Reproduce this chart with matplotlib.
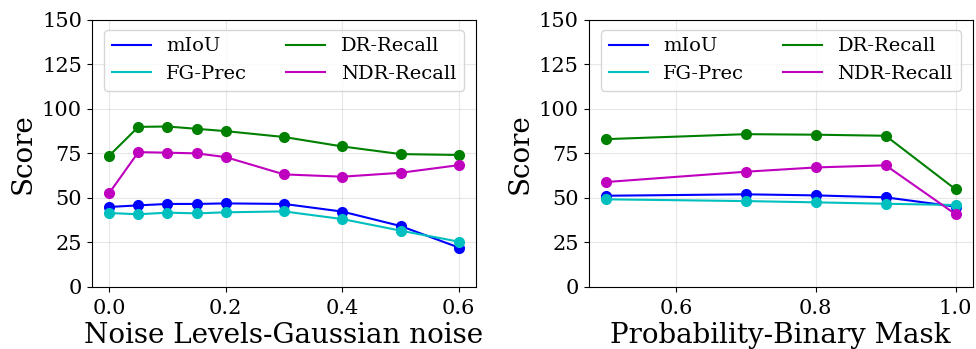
import matplotlib
matplotlib.use("Agg")
import matplotlib.pyplot as plt

plt.rcParams["font.family"] = "DejaVu Serif"

# noise sweep (gaussian)
noise_levels = [0.0, 0.05, 0.1, 0.15, 0.2, 0.3, 0.4, 0.5, 0.6]
noise_miou = [44.9, 45.8, 46.6, 46.6, 46.9, 46.6, 42.3, 34.2, 22.1]
noise_fg_prec = [41.5, 40.8, 41.7, 41.3, 41.9, 42.4, 38.1, 31.6, 25.4]
noise_dr_recall = [73.7, 89.9, 90.1, 88.8, 87.5, 84.2, 78.9, 74.6, 74.1]
noise_ndr_recall = [52.7, 75.7, 75.4, 75.0, 72.9, 63.2, 61.9, 64.1, 68.4]

# binary mask keep-probability sweep
mask_probs = [0.5, 0.7, 0.8, 0.9, 1.0]
mask_miou = [51.2, 52.0, 51.4, 50.3, 45.1]
mask_fg_prec = [49.2, 48.2, 47.5, 46.7, 46.0]
mask_dr_recall = [83.0, 85.8, 85.5, 84.9, 54.8]
mask_ndr_recall = [58.9, 64.7, 67.1, 68.3, 40.8]

SERIES = [("mIoU", "b"), ("FG-Prec", "c"), ("DR-Recall", "g"), ("NDR-Recall", "m")]


def draw(ax, x, values, xlabel):
    for (name, color), y in zip(SERIES, values):
        ax.plot(x, y, color=color, linewidth=1.5, label=name)
        ax.plot(x, y, "o", color=color, markersize=7)
    ax.set_ylim(0, 150)
    ax.set_yticks([0, 25, 50, 75, 100, 125, 150])
    ax.set_xlabel(xlabel, fontsize=20, labelpad=3)
    ax.set_ylabel("Score", fontsize=20, labelpad=4)
    ax.tick_params(labelsize=15)
    ax.tick_params(axis="x", pad=5)
    ax.grid(True, alpha=0.3)
    ax.legend(loc="upper center", ncol=2, fontsize=14)


fig = plt.figure(figsize=(9.76, 3.49), dpi=100)
ax1 = fig.add_axes([0.094, 0.178, 0.394, 0.765])
ax2 = fig.add_axes([0.603, 0.178, 0.394, 0.765])

draw(ax1, noise_levels,
     [noise_miou, noise_fg_prec, noise_dr_recall, noise_ndr_recall],
     "Noise Levels-Gaussian noise")
ax1.set_xticks([0.0, 0.2, 0.4, 0.6])
draw(ax2, mask_probs,
     [mask_miou, mask_fg_prec, mask_dr_recall, mask_ndr_recall],
     "Probability-Binary Mask")
ax2.set_xticks([0.6, 0.8, 1.0])

fig.savefig("out.png", dpi=100)
